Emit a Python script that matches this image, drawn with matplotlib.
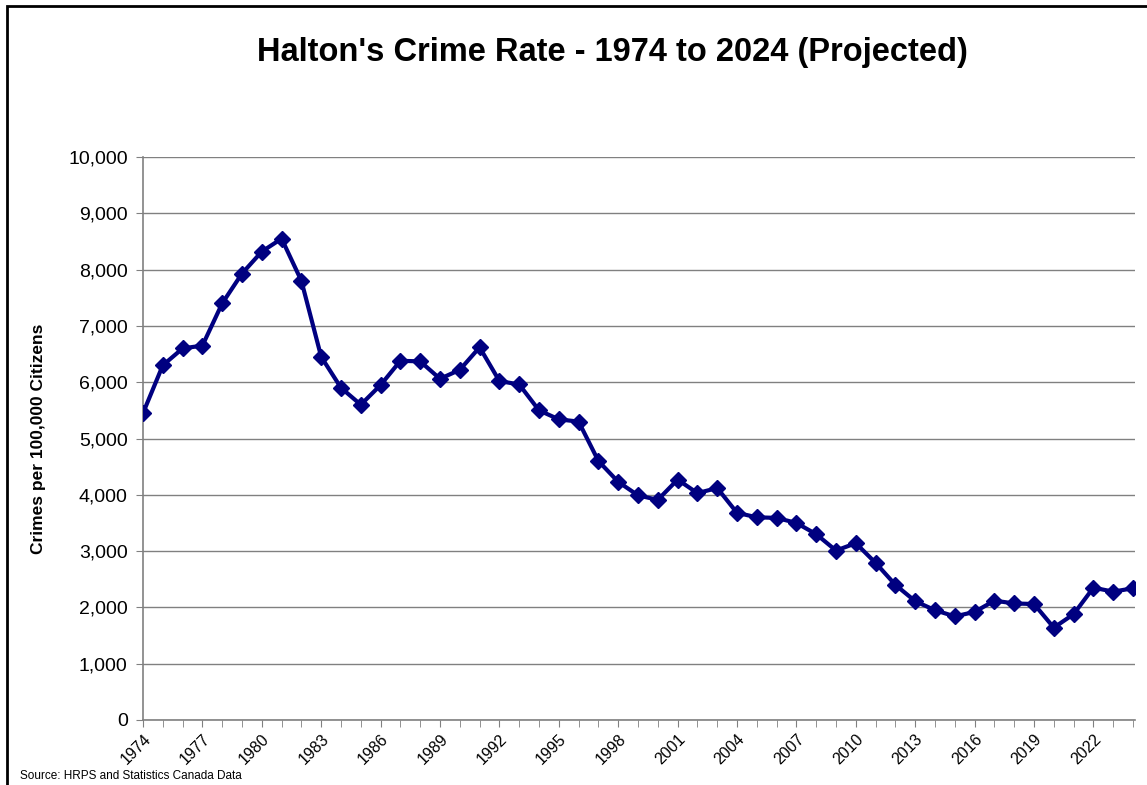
import matplotlib.pyplot as plt
from matplotlib.patches import Rectangle
from matplotlib.ticker import FuncFormatter, MultipleLocator

plt.rcParams['font.family'] = ['Liberation Sans', 'DejaVu Sans']

years = list(range(1974, 2025))
crime_rate = [5450, 6300, 6600, 6650, 7400, 7930, 8320, 8550, 7800, 6450,
              5900, 5600, 5950, 6380, 6370, 6060, 6220, 6620, 6020, 5960,
              5500, 5340, 5300, 4600, 4230, 3990, 3910, 4270, 4030, 4120,
              3680, 3600, 3590, 3500, 3300, 3010, 3140, 2790, 2400, 2110,
              1950, 1840, 1920, 2120, 2070, 2060, 1640, 1880, 2350, 2280,
              2340]
label_years = years[::3]

fig = plt.figure(figsize=(11.47, 7.85), dpi=100)
ax = fig.add_axes([143 / 1147, 1 - 720 / 785, (1135 - 143) / 1147, (720 - 157) / 785])

# outer chart frame
fig.patches.append(Rectangle((7 / 1147, -0.01), 1.05, 1 - 6 / 785 + 0.01,
                             transform=fig.transFigure, fill=False,
                             edgecolor='black', linewidth=2))

ax.plot(years, crime_rate, color='#000080', linewidth=3, marker='D',
        markersize=8.5, zorder=3)

ax.set_xlim(1974, 2024.1)
ax.set_ylim(0, 10000)
ax.yaxis.set_major_locator(MultipleLocator(1000))
ax.yaxis.set_major_formatter(FuncFormatter(lambda v, p: f"{int(v):,}"))
ax.grid(axis='y', color='#808080', linewidth=1)
ax.set_axisbelow(True)

ax.set_xticks(years, minor=True)
ax.set_xticks(label_years)
ax.set_xticklabels([str(y) for y in label_years], rotation=45, ha='right',
                   rotation_mode='anchor', fontsize=11.5)
ax.tick_params(axis='x', which='both', length=5, color='#808080', direction='out')
ax.tick_params(axis='y', length=5, color='#808080', labelsize=14, pad=6)

for side in ['top', 'right']:
    ax.spines[side].set_visible(False)
for side in ['left', 'bottom']:
    ax.spines[side].set_color('#808080')
    ax.spines[side].set_linewidth(1.2)

ax.set_ylabel('Crimes per 100,000 Citizens', fontsize=12.5, fontweight='bold',
              labelpad=16)

fig.text(612 / 1147, 1 - 53 / 785, "Halton's Crime Rate - 1974 to 2024 (Projected)",
         ha='center', va='center', fontsize=23.5, fontweight='bold')
fig.text(20 / 1147, 1 - 776 / 785, 'Source: HRPS and Statistics Canada Data',
         ha='left', va='center', fontsize=8.5)

fig.savefig('out.png', dpi=100)
